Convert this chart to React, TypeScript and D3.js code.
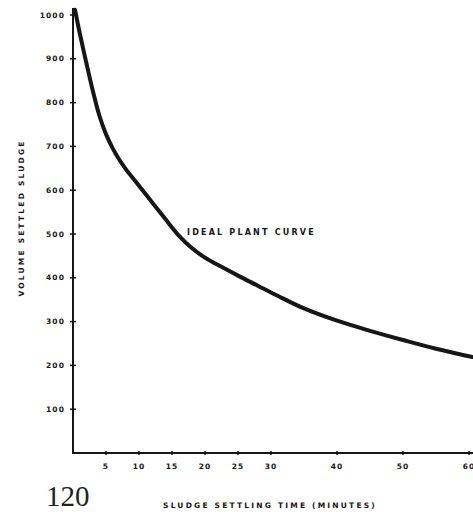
import React from "react";
import * as d3 from "d3";

const timeMin = [0.3, 1, 2, 3, 4, 5, 6, 7, 8, 10, 12, 14, 16, 18, 20, 22, 25, 28, 31, 35, 40, 45, 50, 55, 60.5];
const volume = [1012, 960, 892, 827, 770, 728, 696, 670, 648, 610, 572, 534, 497, 468, 446, 429, 405, 382, 359, 330, 302, 279, 258, 238, 219];
const yTicks = [100, 200, 300, 400, 500, 600, 700, 800, 900, 1000];
const xTicks = [5, 10, 15, 20, 25, 30, 40, 50, 60];
const curveLabel = "IDEAL PLANT CURVE";
const xTitle = "SLUDGE SETTLING TIME (MINUTES)";
const yTitle = "VOLUME SETTLED SLUDGE";
const pageNumber = "120";

export default function App() {
  const W = 473, H = 512;
  const x = d3.scaleLinear().domain([0, 60]).range([73, 469]);
  const y = d3.scaleLinear().domain([0, 1000]).range([453, 15]);
  const pts: [number, number][] = timeMin.map((t, i) => [t, volume[i]]);
  const line = d3
    .line<[number, number]>()
    .x((d) => x(d[0]))
    .y((d) => y(d[1]))
    .curve(d3.curveCatmullRom.alpha(0.5));
  const ink = "#161616";
  const tickFont = { fontFamily: "DejaVu Sans", fontWeight: 700, fontSize: 7.5, fill: ink } as const;
  return (
    <svg width={W} height={H} style={{ position: "absolute", left: 0, top: 0, background: "#fff" }}>
      {/* axes */}
      <line x1={x(0)} x2={x(0)} y1={y(0)} y2={8} stroke={ink} strokeWidth={2} />
      <line x1={x(0) - 1} x2={W} y1={y(0)} y2={y(0)} stroke={ink} strokeWidth={2} />
      {yTicks.map((v) => (
        <g key={"y" + v}>
          <line x1={x(0) - 3} x2={x(0) + 3} y1={y(v)} y2={y(v)} stroke={ink} strokeWidth={1.5} />
          <text x={65} y={y(v)} dy="0.35em" textAnchor="end" letterSpacing={1.1} {...tickFont}>
            {v}
          </text>
        </g>
      ))}
      {xTicks.map((t) => (
        <g key={"x" + t}>
          <line x1={x(t)} x2={x(t)} y1={y(0) - 2} y2={y(0) + 2} stroke={ink} strokeWidth={1.5} />
          <text x={x(t)} y={469} textAnchor="middle" letterSpacing={1.1} {...tickFont}>
            {t}
          </text>
        </g>
      ))}
      {/* curve */}
      <path d={line(pts) || ""} fill="none" stroke={ink} strokeWidth={4} strokeLinejoin="round" strokeLinecap="round" />
      <text x={187} y={235} letterSpacing={2.2} {...tickFont} fontSize={8}>
        {curveLabel}
      </text>
      {/* titles */}
      <text x={270} y={508} textAnchor="middle" letterSpacing={2.2} {...tickFont} fontSize={7.5}>
        {xTitle}
      </text>
      <text
        transform={`translate(24,${218}) rotate(-90)`}
        textAnchor="middle"
        letterSpacing={2.2}
        {...tickFont}
        fontSize={7.5}
      >
        {yTitle}
      </text>
      <text x={46} y={506} fontFamily="Liberation Serif" fontSize={29} fill="#222">
        {pageNumber}
      </text>
    </svg>
  );
}
